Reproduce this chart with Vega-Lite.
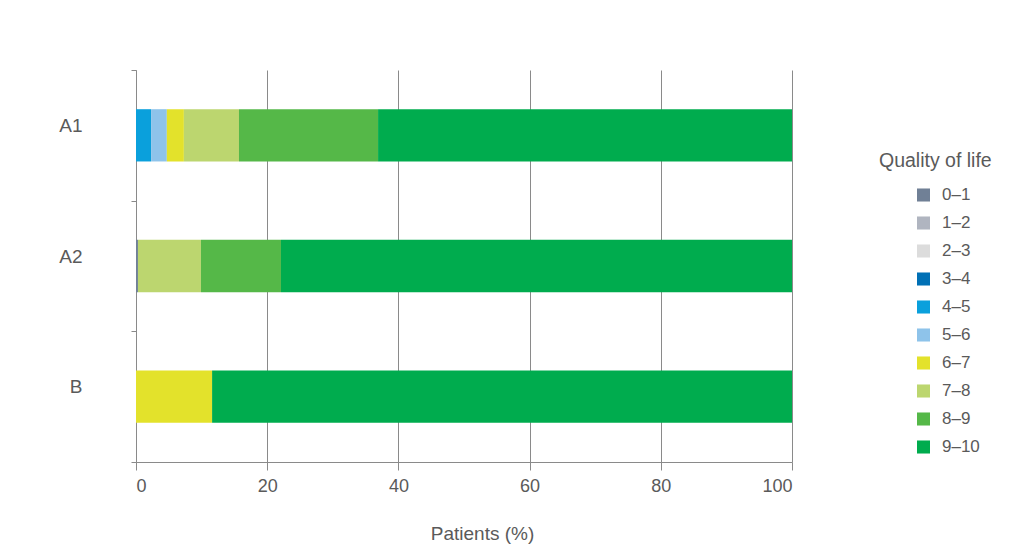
{
  "$schema": "https://vega.github.io/schema/vega-lite/v6.json",
  "width": 656,
  "height": 392,
  "autosize": {"type": "none"},
  "padding": {"left": 136, "top": 70, "right": 243, "bottom": 92},
  "background": "white",
  "config": {
    "font": "Liberation Sans",
    "view": {"stroke": null}
  },
  "data": {
    "values": [
      {"group": "A1", "qol": "4–5", "pct": 2.3},
      {"group": "A1", "qol": "5–6", "pct": 2.4},
      {"group": "A1", "qol": "6–7", "pct": 2.6},
      {"group": "A1", "qol": "7–8", "pct": 8.4},
      {"group": "A1", "qol": "8–9", "pct": 21.2},
      {"group": "A1", "qol": "9–10", "pct": 63.1},
      {"group": "A2", "qol": "0–1", "pct": 0.3},
      {"group": "A2", "qol": "7–8", "pct": 9.6},
      {"group": "A2", "qol": "8–9", "pct": 12.2},
      {"group": "A2", "qol": "9–10", "pct": 77.9},
      {"group": "B", "qol": "6–7", "pct": 11.6},
      {"group": "B", "qol": "9–10", "pct": 88.4}
    ]
  },
  "mark": {"type": "bar", "height": {"band": 0.4}},
  "encoding": {
    "y": {
      "field": "group",
      "type": "nominal",
      "sort": ["A1", "A2", "B"],
      "scale": {"paddingInner": 0, "paddingOuter": 0},
      "axis": {
        "title": null,
        "domain": true,
        "domainColor": "#8a8a8a",
        "ticks": true,
        "tickBand": "extent",
        "tickSize": 5,
        "tickColor": "#8a8a8a",
        "labelPadding": 49,
        "labelOffset": -10,
        "labelFontSize": 19,
        "labelColor": "#5a5a5a"
      }
    },
    "x": {
      "field": "pct",
      "type": "quantitative",
      "stack": "zero",
      "scale": {"domain": [0, 100], "nice": false},
      "axis": {
        "title": "Patients (%)",
        "titleFontSize": 19,
        "titleFontWeight": "normal",
        "titleColor": "#5a5a5a",
        "titleX": 346,
        "titleY": 71,
        "titleAlign": "center",
        "titleBaseline": "middle",
        "values": [0, 20, 40, 60, 80, 100],
        "grid": true,
        "gridColor": "#8a8a8a",
        "gridWidth": 1,
        "domain": true,
        "domainColor": "#8a8a8a",
        "ticks": true,
        "tickSize": 8,
        "tickColor": "#8a8a8a",
        "labelPadding": 7,
        "labelFontSize": 18,
        "labelColor": "#5a5a5a"
      }
    },
    "color": {
      "field": "qol",
      "type": "nominal",
      "scale": {
        "domain": ["0–1", "1–2", "2–3", "3–4", "4–5", "5–6", "6–7", "7–8", "8–9", "9–10"],
        "range": ["#708096", "#b0b5c0", "#dcdcdc", "#0070b5", "#0aa0dc", "#8ec3ea", "#e3e22b", "#bcd66f", "#55b848", "#00ac4e"]
      },
      "legend": {
        "title": "Quality of life",
        "orient": "none",
        "legendX": 743,
        "legendY": 82,
        "titleFontSize": 19.5,
        "titleFontWeight": "normal",
        "titleColor": "#5a5a5a",
        "titlePadding": 15,
        "symbolType": "square",
        "symbolSize": 170,
        "symbolStrokeWidth": 0,
        "symbolOffset": 36,
        "labelFontSize": 17,
        "labelColor": "#5a5a5a",
        "labelOffset": 10,
        "rowPadding": 10
      }
    },
    "order": {"field": "qol", "sort": "ascending"}
  }
}
